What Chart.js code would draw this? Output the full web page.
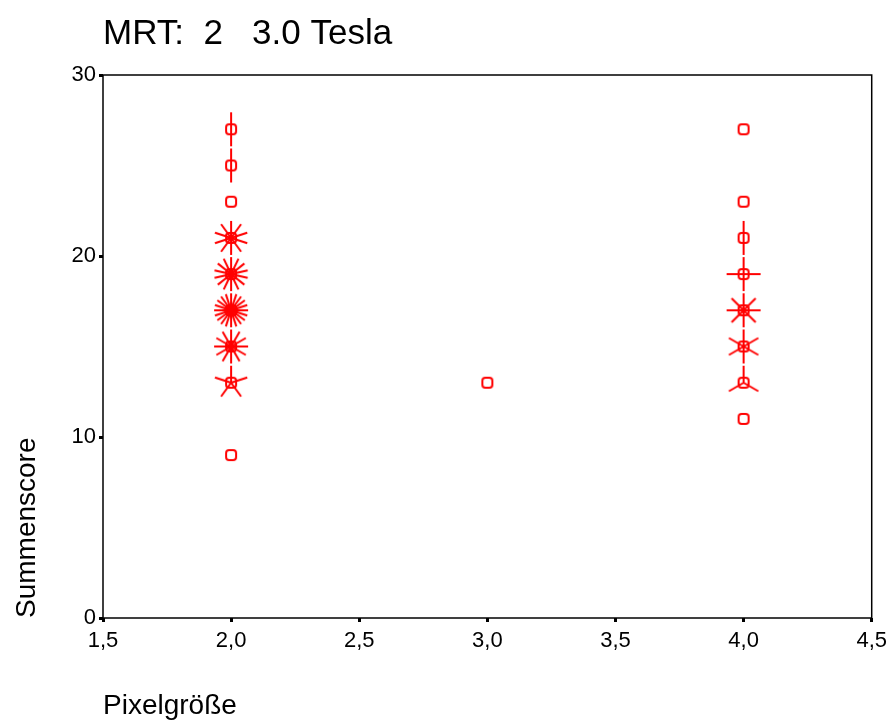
<!DOCTYPE html>
<html>
<head>
<meta charset="utf-8">
<script src="https://cdn.jsdelivr.net/npm/chart.js@4"></script>
<style>
  body { margin: 0; background: #fff; }
  canvas { display: block; }
</style>
</head>
<body>
<canvas id="grafico" width="893" height="727"></canvas>
<script>
// Sunflower plot: each point has a frequency (petals)
var pixelGroesse = [2, 2, 2, 2, 2, 2, 2, 2, 2, 3, 4, 4, 4, 4, 4, 4, 4, 4];
var summenscore  = [27, 25, 23, 21, 19, 17, 15, 13, 9, 13, 27, 23, 21, 19, 17, 15, 13, 11];
var haeufigkeit  = [2, 2, 1, 10, 14, 20, 12, 5, 1, 1, 1, 1, 2, 4, 8, 6, 3, 1];
var xTicks = [1.5, 2.0, 2.5, 3.0, 3.5, 4.0, 4.5];
var yTicks = [0, 10, 20, 30];
var titel = 'MRT:  2   3.0 Tesla';

var ROT = "#ff0000";
var cacheBlumen = {};

function sonnenblume(n){
	if (cacheBlumen[n]) return cacheBlumen[n];
	var c = document.createElement('canvas');
	c.width = 40; c.height = 40;
	var g = c.getContext('2d');
	g.strokeStyle = ROT;
	g.lineWidth = 2;
	// kleines abgerundetes Quadrat
	g.beginPath();
	g.roundRect(15, 15, 10, 10, 3);
	g.stroke();
	if (n > 1) {
		for (var i = 0; i < n; i++) {
			var a = Math.PI / 2 + i * 2 * Math.PI / n;
			g.beginPath();
			g.moveTo(20, 20);
			g.lineTo(20 + 17 * Math.cos(a), 20 - 17 * Math.sin(a));
			g.stroke();
		}
	}
	cacheBlumen[n] = c;
	return c;
}

var punkte = [];
for (var i = 0; i < pixelGroesse.length; i++) {
	punkte.push({x: pixelGroesse[i], y: summenscore[i], n: haeufigkeit[i]});
}

var schrift = "'Liberation Sans', Arial, sans-serif";

var rahmen = {
	id: 'rahmen',
	afterDraw: function(chart){
		var a = chart.chartArea, g = chart.ctx;
		g.save();
		g.strokeStyle = "#000";
		g.lineWidth = 1.5;
		g.strokeRect(a.left, a.top, a.right - a.left, a.bottom - a.top);
		// Titel links an der Zeichenfläche
		g.fillStyle = "#000";
		g.font = "35px " + schrift;
		g.textAlign = 'left';
		g.textBaseline = 'middle';
		g.fillText(titel, a.left, 34);
		g.restore();
	}
};

new Chart(document.getElementById('grafico').getContext('2d'), {
	type: 'scatter',
	data: {
		datasets: [{
			data: punkte,
			pointStyle: function(ctx){
				var p = ctx.raw;
				return sonnenblume(p ? p.n : 1);
			},
			pointRadius: 20,
			pointHoverRadius: 20,
			borderColor: ROT,
			backgroundColor: ROT
		}]
	},
	options: {
		responsive: false,
		animation: false,
		layout: { padding: { left: 10, right: 16, top: 75, bottom: 4 } },
		plugins: {
			legend: { display: false },
			tooltip: { enabled: false },
			title: { display: false }
		},
		scales: {
			x: {
				type: 'linear',
				min: 1.5, max: 4.5,
				afterBuildTicks: function(s){ s.ticks = xTicks.map(function(v){ return {value: v}; }); },
				ticks: {
					color: '#000',
					font: { family: schrift, size: 22 },
					padding: 6,
					maxRotation: 0,
					callback: function(v){ return v.toFixed(1).replace('.', ','); }
				},
				grid: { display: true, drawOnChartArea: false, tickLength: 4, color: '#000', lineWidth: 3 },
				border: { display: false },
				title: {
					display: true,
					text: 'Pixelgröße',
					align: 'start',
					color: '#000',
					font: { family: schrift, size: 28 },
					padding: { top: 0, bottom: 0 }
				},
				afterFit: function(s){ s.height = 105; }
			},
			y: {
				type: 'linear',
				min: 0, max: 30,
				afterBuildTicks: function(s){ s.ticks = yTicks.map(function(v){ return {value: v}; }); },
				ticks: {
					color: '#000',
					font: { family: schrift, size: 22 },
					padding: 3
				},
				grid: { display: true, drawOnChartArea: false, tickLength: 4, color: '#000', lineWidth: 3 },
				border: { display: false },
				title: {
					display: true,
					text: 'Summenscore',
					align: 'start',
					color: '#000',
					font: { family: schrift, size: 28 },
					padding: { top: 0, bottom: 0 }
				},
				afterFit: function(s){ s.width = 93; }
			}
		}
	},
	plugins: [rahmen]
});
</script>
</body>
</html>
